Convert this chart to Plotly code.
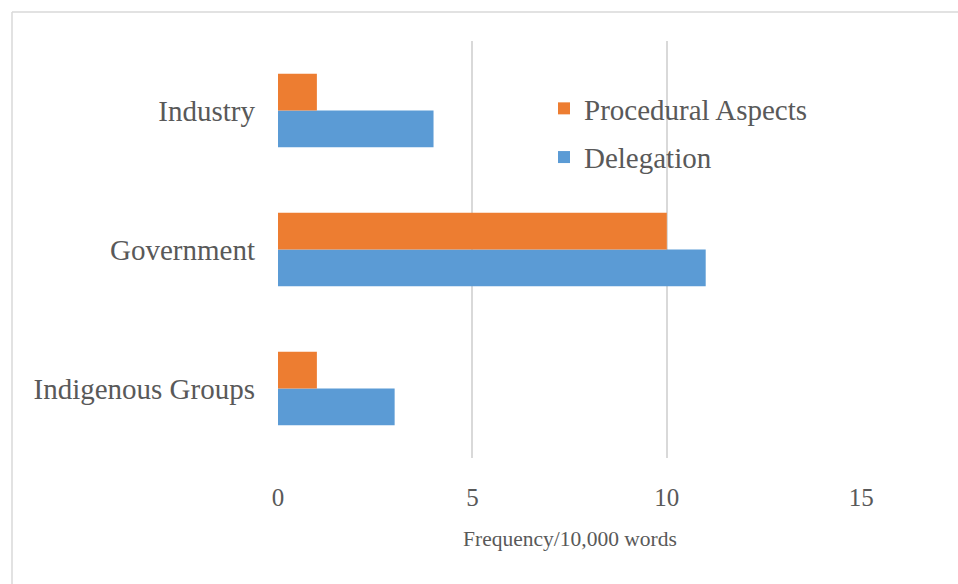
import plotly.graph_objects as go

# Category labels, bottom to top
groups = ["Indigenous Groups", "Government", "Industry"]

# Frequency per 10,000 words
delegation = [3, 11, 4]
procedural = [1, 10, 1]

x_ticks = [0, 5, 10, 15]

W, H = 958, 584
L, R, T, B = 278, 96, 41, 126

SERIF = "Liberation Serif, Times New Roman, serif"
TEXT = "#595959"
GRID = "#d9d9d9"

fig = go.Figure()
fig.add_trace(go.Bar(
    y=groups, x=delegation, name="Delegation", orientation="h",
    legendgroup="d", legendrank=2,
    marker=dict(color="#5B9BD5", line=dict(width=0)),
))
fig.add_trace(go.Bar(
    y=groups, x=procedural, name="Procedural Aspects", orientation="h",
    legendgroup="p", legendrank=1,
    marker=dict(color="#ED7D31", line=dict(width=0)),
))

pw = W - L - R
ph = H - T - B


def px_to_paper_x(px):
    return (px - L) / pw


def px_to_paper_y(py):
    return (H - B - py) / ph


# Chart-area frame (left and top edges)
fig.add_shape(type="line", xref="paper", yref="paper",
              x0=px_to_paper_x(12), x1=px_to_paper_x(12),
              y0=px_to_paper_y(12), y1=px_to_paper_y(H),
              line=dict(color=GRID, width=1.5))
fig.add_shape(type="line", xref="paper", yref="paper",
              x0=px_to_paper_x(12), x1=px_to_paper_x(W),
              y0=px_to_paper_y(12), y1=px_to_paper_y(12),
              line=dict(color=GRID, width=1.5))

fig.update_layout(
    width=W, height=H,
    margin=dict(l=L, r=R, t=T, b=B),
    paper_bgcolor="white", plot_bgcolor="white",
    barmode="group", bargap=0.47, bargroupgap=0,
    font=dict(family=SERIF, color=TEXT),
    showlegend=True,
    legend=dict(
        traceorder="grouped",
        x=px_to_paper_x(544), y=px_to_paper_y(83),
        xanchor="left", yanchor="top",
        bgcolor="rgba(0,0,0,0)",
        font=dict(size=29, family=SERIF, color=TEXT),
        itemwidth=30, tracegroupgap=8,
    ),
    xaxis=dict(
        range=[0, 15.02],
        tickvals=x_ticks,
        tickfont=dict(size=25, family=SERIF, color=TEXT),
        showgrid=True, gridcolor=GRID, gridwidth=1.5,
        zeroline=False, showline=False, ticks="",
        ticklabelstandoff=22,
        title=dict(text="Frequency/10,000 words",
                   font=dict(size=21.5, family=SERIF, color=TEXT),
                   standoff=20),
        fixedrange=True,
    ),
    yaxis=dict(
        type="category",
        tickfont=dict(size=29, family=SERIF, color=TEXT),
        showgrid=False, zeroline=False, showline=False, ticks="",
        ticklabelstandoff=22,
        fixedrange=True,
    ),
)

fig.write_html("out.html", config={"displayModeBar": False})
